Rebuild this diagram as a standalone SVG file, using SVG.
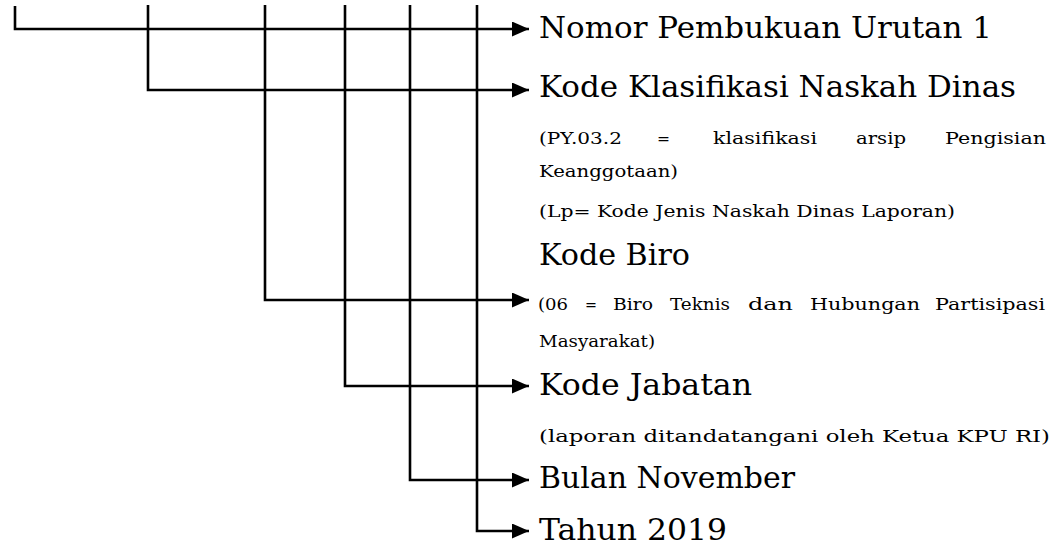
<svg xmlns="http://www.w3.org/2000/svg" width="1061" height="551" viewBox="0 0 1061 551">
<style>
  .bg { fill: #ffffff; }
  .conn { fill: none; stroke: #000000; stroke-width: 2.6; stroke-linejoin: miter; stroke-linecap: butt; marker-end: url(#arrow); }
  .big { font-family: "DejaVu Serif", "Liberation Serif", serif; font-size: 29.5px; fill: #000000; }
  .small { font-family: "DejaVu Serif", "Liberation Serif", serif; font-size: 17px; fill: #000000; }
</style>
<defs>
  <marker id="arrow" markerUnits="userSpaceOnUse" markerWidth="17" markerHeight="15" refX="17" refY="7.5" orient="auto">
    <path d="M0,0 L17,7.5 L0,15 Z" fill="#000000"/>
  </marker>
</defs>
<rect class="bg" x="0" y="0" width="1061" height="551"/>
<g id="connectors">
  <path class="conn" d="M15,6 V29 H529"/>
  <path class="conn" d="M148,5 V90 H529"/>
  <path class="conn" d="M265,5 V300 H529"/>
  <path class="conn" d="M345,5 V386 H529"/>
  <path class="conn" d="M410,5 V480 H529"/>
  <path class="conn" d="M477,5 V531 H529"/>
</g>
<g id="node-nomor">
  <text class="big" x="539" y="38" textLength="453" lengthAdjust="spacingAndGlyphs">Nomor Pembukuan Urutan 1</text>
</g>
<g id="node-klasifikasi">
  <text class="big" x="539" y="97" textLength="477" lengthAdjust="spacingAndGlyphs">Kode Klasifikasi Naskah Dinas</text>
  <text class="small" x="539" y="144" textLength="83" lengthAdjust="spacingAndGlyphs">(PY.03.2</text>
  <text class="small" x="657" y="144" textLength="13" lengthAdjust="spacingAndGlyphs">=</text>
  <text class="small" x="713" y="144" textLength="104" lengthAdjust="spacingAndGlyphs">klasifikasi</text>
  <text class="small" x="856" y="144" textLength="50" lengthAdjust="spacingAndGlyphs">arsip</text>
  <text class="small" x="945" y="144" textLength="101" lengthAdjust="spacingAndGlyphs">Pengisian</text>
  <text class="small" x="539" y="177" textLength="139" lengthAdjust="spacingAndGlyphs">Keanggotaan)</text>
  <text class="small" x="539" y="217" textLength="416" lengthAdjust="spacingAndGlyphs">(Lp= Kode Jenis Naskah Dinas Laporan)</text>
</g>
<g id="node-biro">
  <text class="big" x="539" y="265" textLength="151" lengthAdjust="spacingAndGlyphs">Kode Biro</text>
  <text class="small" x="538" y="310" textLength="30" lengthAdjust="spacingAndGlyphs">(06</text>
  <text class="small" x="585" y="310" textLength="12" lengthAdjust="spacingAndGlyphs">=</text>
  <text class="small" x="613" y="310" textLength="40" lengthAdjust="spacingAndGlyphs">Biro</text>
  <text class="small" x="670" y="310" textLength="60" lengthAdjust="spacingAndGlyphs">Teknis</text>
  <text class="small" x="748" y="310" textLength="45" lengthAdjust="spacingAndGlyphs">dan</text>
  <text class="small" x="810" y="310" textLength="110" lengthAdjust="spacingAndGlyphs">Hubungan</text>
  <text class="small" x="935" y="310" textLength="110" lengthAdjust="spacingAndGlyphs">Partisipasi</text>
  <text class="small" x="539" y="347" textLength="116" lengthAdjust="spacingAndGlyphs">Masyarakat)</text>
</g>
<g id="node-jabatan">
  <text class="big" x="539" y="395" textLength="213" lengthAdjust="spacingAndGlyphs">Kode Jabatan</text>
  <text class="small" x="539" y="442" textLength="511" lengthAdjust="spacingAndGlyphs">(laporan ditandatangani oleh Ketua KPU RI)</text>
</g>
<g id="node-bulan">
  <text class="big" x="539" y="488" textLength="256" lengthAdjust="spacingAndGlyphs">Bulan November</text>
</g>
<g id="node-tahun">
  <text class="big" x="539" y="540" textLength="188" lengthAdjust="spacingAndGlyphs">Tahun 2019</text>
</g>
</svg>
